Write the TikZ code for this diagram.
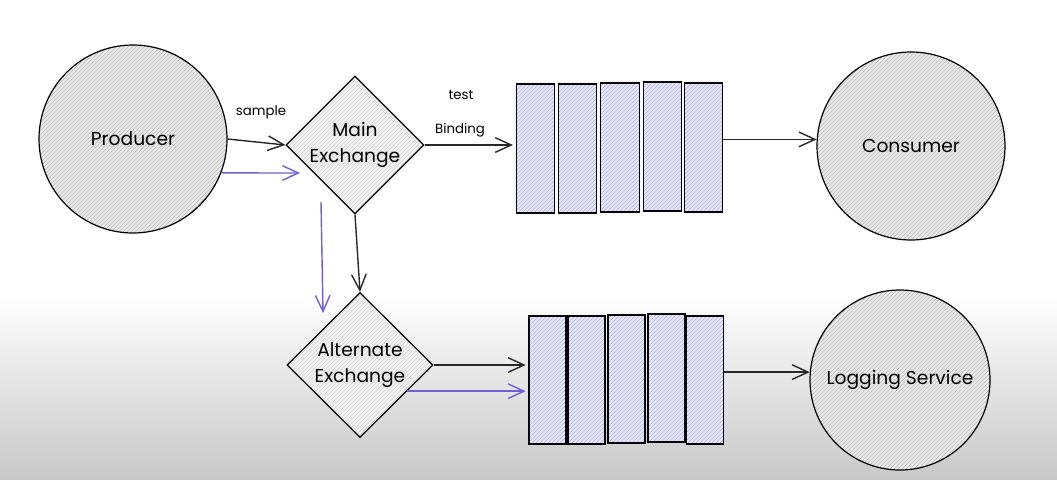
\documentclass[tikz,border=0pt]{standalone}
\usepackage{fontspec}
\setmainfont{Poppins}
\usetikzlibrary{patterns}
\usetikzlibrary{shapes.geometric}
\usetikzlibrary{arrows.meta}

\begin{document}
\begin{tikzpicture}[x=0.75pt,y=0.75pt,yscale=-1,xscale=1,
    actor/.style={circle,draw,line width=0.9pt,minimum size=141pt,inner sep=0pt,preaction={fill={rgb, 255:red, 236; green, 236; blue, 236 }},pattern=north east lines,pattern color={rgb, 255:red, 180; green, 180; blue, 180 },font=\fontsize{14}{18}\selectfont},
    exch/.style={diamond,draw,line width=0.9pt,inner sep=0pt,align=center,preaction={fill={rgb, 255:red, 242; green, 242; blue, 242 }},pattern=north east lines,pattern color={rgb, 255:red, 212; green, 212; blue, 212 },font=\fontsize{14}{19}\selectfont},
    slot/.style={rectangle,draw,line width=0.9pt,inner sep=0pt,minimum width=29pt,minimum height=96.75pt,preaction={fill={rgb, 255:red, 232; green, 232; blue, 251 }},pattern=north east lines,pattern color={rgb, 255:red, 172; green, 172; blue, 232 }},
    flow/.style={draw={rgb, 255:red, 40; green, 40; blue, 40 },line width=1.05pt,-{Straight Barb[length=12pt,width=11pt]}},
    altflow/.style={flow,draw={rgb, 255:red, 112; green, 96; blue, 212 }},
    lbl/.style={inner sep=0.75pt,font=\fontsize{10}{12}\selectfont}
    ]
    \useasboundingbox (0,0) rectangle (1057,479);

    %Background
    \fill [white] (0,0) rectangle (1057,479);
    \shade [top color=white,bottom color={rgb, 255:red, 200; green, 200; blue, 200 }] (0,295) rectangle (1057,479);

    %Shape: Circle
    \node [actor] (prod) at (133,139) {Producer};
    \node [actor] (cons) at (911,146) {Consumer};
    \node [actor,minimum size=135pt] (logsvc) at (900,380) {Logging Service};

    %Shape: Diamond
    \node [exch,minimum width=103.5pt,minimum height=103.5pt] (main) at (355,145) {Main\\Exchange};
    \node [exch,minimum width=109.5pt,minimum height=108.75pt] (alt) at (360,365) {Alternate\\Exchange};

    %Shape: Rectangle
    \node [slot] (tq1) at (535.5,148.5) {};
    \node [slot] (tq2) at (577.5,148.5) {};
    \node [slot] (tq3) at (620,147.5) {};
    \node [slot] (tq4) at (662.5,146.5) {};
    \node [slot] (tq5) at (703.5,147.5) {};
    %Shape: Rectangle
    \node [slot,minimum width=27.75pt,minimum height=96pt] (bq1) at (547.5,380) {};
    \node [slot,minimum width=27.75pt,minimum height=96pt] (bq2) at (586.5,380) {};
    \node [slot,minimum width=27.75pt,minimum height=96pt] (bq3) at (626.5,379) {};
    \node [slot,minimum width=27.75pt,minimum height=96pt] (bq4) at (666.5,378) {};
    \node [slot,minimum width=27.75pt,minimum height=96pt] (bq5) at (705,380) {};

    \coordinate (sampleEnd) at (300,173);
    \coordinate (dropTop) at (321,202);
    \coordinate (dropEnd) at (323,313);

    %Straight Lines
    \draw [flow] (prod.east) -- (main.west);
    \draw [flow] (main.east) -- ([xshift=-2]main.east -| tq1.west);
    \draw [flow] (cons.176 -| tq5.east) -- (cons.176);
    \draw [flow] (main.south) -- (alt.north);
    \draw [flow] (alt.east) -- ([xshift=-2]alt.east -| bq1.west);
    \draw [flow] (logsvc.175 -| bq5.east) -- (logsvc.175);
    %Straight Lines
    \draw [altflow] (prod.-21) -- (sampleEnd);
    \draw [altflow] (dropTop) -- (dropEnd);
    \draw [altflow] (alt.-29) -- ([xshift=-2]alt.-29 -| bq1.west);

    % Text Node
    \node [lbl] (sampleLbl) at (261,112) {sample};
    % Text Node
    \node [lbl] (testLbl) at (461,95) {test};
    % Text Node
    \node [lbl] (bindLbl) at (460,130) {Binding};

\end{tikzpicture}
\end{document}
